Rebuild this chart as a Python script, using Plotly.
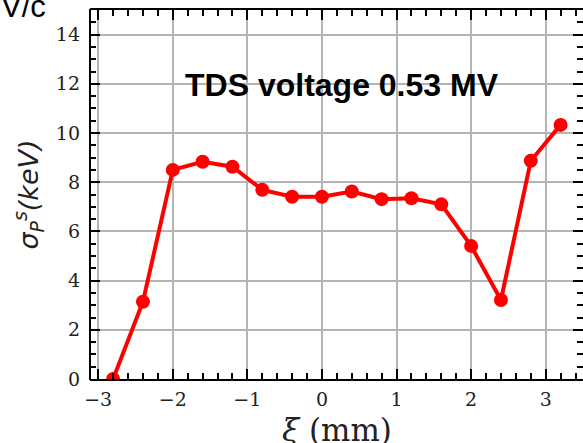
import plotly.graph_objects as go

xi_mm = [-2.8, -2.4, -2.0, -1.6, -1.2, -0.8, -0.4, 0.0, 0.4, 0.8, 1.2, 1.6, 2.0, 2.4, 2.8, 3.2]
sigma_kev = [0.0, 3.14, 8.5, 8.83, 8.63, 7.69, 7.41, 7.41, 7.62, 7.31, 7.35, 7.1, 5.41, 3.21, 8.87, 10.33]
x_ticks = [-3, -2, -1, 0, 1, 2, 3]
y_ticks = [0, 2, 4, 6, 8, 10, 12, 14]
title_text = "TDS voltage 0.53 MV"
corner_text = "V/c"
x_label = "<i>ξ</i> (mm)"
y_label = "<i>σ<sub>P</sub><sup>s</sup>(keV)</i>"

fig = go.Figure()
fig.add_trace(go.Scatter(
    x=xi_mm, y=sigma_kev, mode="lines+markers",
    line=dict(color="#ff0000", width=4),
    marker=dict(color="#ff0000", size=14),
    cliponaxis=True, showlegend=False,
))

tickfont = dict(family="DejaVu Serif", size=19, color="#222222")
common = dict(
    ticks="inside", ticklen=10, tickwidth=2, tickcolor="black",
    showgrid=True, gridcolor="#b4b4b4", gridwidth=1.5,
    zeroline=False, tickfont=tickfont,
)

fig.update_xaxes(
    range=[-3.11, 3.5], tickvals=x_ticks,
    showline=True, linecolor="black", linewidth=2, mirror="ticks",
    minor=dict(dtick=0.2, tick0=0, ticks="inside", ticklen=6, tickwidth=1.5, tickcolor="black", showgrid=False),
    ticklabelstandoff=2,
    **common,
)
fig.update_yaxes(
    range=[0, 15], tickvals=y_ticks,
    showline=False, mirror="ticks",
    minor=dict(dtick=0.5, tick0=0, ticks="inside", ticklen=6, tickwidth=1.5, tickcolor="black", showgrid=False),
    title=dict(text=y_label, font=dict(family="DejaVu Sans", size=27, color="#222222"), standoff=9),
    ticklabelstandoff=9,
    **common,
)

# left spine only (right spine lies outside the cropped picture)
fig.add_shape(type="line", xref="paper", yref="paper", x0=0, x1=0, y0=-0.003, y1=1.003,
              line=dict(color="black", width=2))

# x-axis label (partly cut by the picture's bottom edge, as in the reference)
fig.add_annotation(
    x=(337 - 90) / 493, y=(379.3 - 450) / 369.3, xref="paper", yref="paper", text=x_label,
    showarrow=False, font=dict(family="DejaVu Serif", size=31, color="#222222"),
    xanchor="center", yanchor="bottom",
)
fig.add_annotation(
    x=0.27, y=11.95, xref="x", yref="y", text="<b>" + title_text + "</b>",
    showarrow=False, font=dict(family="Liberation Sans", size=32, color="black"),
    xanchor="center", yanchor="middle",
)
fig.add_annotation(
    x=-91 / 493, y=(369.3 + 4) / 369.3, xref="paper", yref="paper", text=corner_text,
    showarrow=False, font=dict(family="Liberation Sans", size=31, color="black"),
    xanchor="left", yanchor="middle",
)

fig.update_layout(
    width=583, height=443,
    margin=dict(l=90, r=0, t=10, b=64, autoexpand=False),
    plot_bgcolor="white", paper_bgcolor="white",
)
fig.write_html("out.html")
